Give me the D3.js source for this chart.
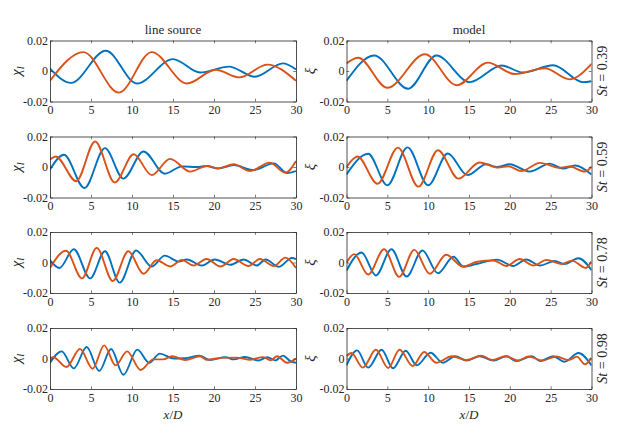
<!DOCTYPE html>
<html><head><meta charset="utf-8">
<script src="https://cdn.jsdelivr.net/npm/d3@7"></script>
<style>
body{margin:0;background:#fff;}
svg, svg text{font-family:"Liberation Serif","DejaVu Serif",serif;}
</style></head>
<body><svg id="c" width="636" height="438"></svg>
<script>
// ---- data ----
const xTicks = [0, 5, 10, 15, 20, 25, 30];
const yTicks = [-0.02, 0, 0.02];
const yTickLabels = ["-0.02", "0", "0.02"];
const columnTitles = ["line source", "model"];
const strouhal = ["0.39", "0.59", "0.78", "0.98"];

// line source, St = 0.39
const ls039Blue = [[0,0.0015],[2.56,-0.0078],[6.8,0.0133],[10.6,-0.0082],[15.0,0.0078],[18.3,-0.001],[21.8,0.0029],[25.0,-0.0038],[28.4,0.005],[30,0.001]];
const ls039Orange = [[0,-0.0064],[4.07,0.0124],[8.4,-0.0142],[12.4,0.0124],[16.7,-0.0082],[20.2,0.0008],[23.1,-0.0042],[26.5,0.0042],[30,-0.0064]];
// model, St = 0.39
const md039Blue = [[0,-0.0064],[3.39,0.0102],[7.55,-0.0116],[11.0,0.0102],[15.1,-0.0073],[19.0,0.0036],[21.6,-0.001],[25.3,0.0038],[29.0,-0.0073],[30,-0.0067]];
const md039Orange = [[0,0.005],[1.43,0.0087],[5.0,-0.011],[9.6,0.011],[13.5,-0.0093],[17.3,0.0055],[20.6,-0.002],[24.3,0.0018],[27.3,-0.0055],[30,0.0047]];
// line source, St = 0.59
const ls059Blue = [[0,-0.0016],[1.7,0.008],[4.2,-0.0138],[6.7,0.0124],[8.95,-0.0076],[11.4,0.0102],[14.0,-0.0044],[16.1,0.0004],[17.9,0],[19.1,0.0007],[20.5,-0.001],[22.4,0.0013],[24.8,-0.002],[27.3,0.0024],[28.9,-0.004],[30,-0.0027]];
const ls059Orange = [[0,0.005],[0.7,0.0069],[3.2,-0.0093],[5.5,0.0167],[7.9,-0.0102],[10.2,0.0084],[12.4,-0.0053],[14.65,0.0053],[17.1,-0.003],[19.1,0.0007],[20.5,-0.0009],[22.4,0.0018],[24.4,-0.0027],[26.8,0.0029],[28.7,-0.0038],[30,0.004]];
// model, St = 0.59
const md059Blue = [[0,-0.0049],[2.65,0.0087],[5.0,-0.012],[7.47,0.0129],[10.0,-0.012],[12.4,0.0089],[14.8,-0.0053],[17.1,0.0018],[18.4,0],[20.0,0.0018],[22.4,-0.003],[24.9,0.0022],[26.5,-0.001],[28.0,0.001],[30,-0.005]];
const md059Orange = [[0,0],[1.35,0.0069],[3.8,-0.011],[6.3,0.0127],[8.8,-0.0129],[11.2,0.011],[13.7,-0.0076],[16.3,0.003],[18.6,-0.0004],[19.8,0.0005],[21.4,-0.0027],[23.7,0.0027],[26.1,-0.0005],[27.3,0.0003],[29.2,-0.003],[30,0.0003]];
// line source, St = 0.78
const ls078Blue = [[0,0.0015],[1.15,-0.0036],[2.9,0.0087],[4.9,-0.0104],[6.7,0.0074],[8.5,-0.0132],[10.5,0.0079],[12.4,-0.0026],[14.0,0.0045],[15.7,0.0006],[16.7,0.002],[18.5,-0.002],[20.1,0.002],[22.0,-0.0015],[23.6,0.002],[25.2,-0.002],[26.3,0.002],[27.9,-0.0028],[29.5,0.003],[30,0.0023]];
const ls078Orange = [[0,-0.0036],[1.95,0.0077],[3.9,-0.0104],[5.7,0.0096],[7.65,-0.0121],[9.55,0.0074],[11.4,-0.0074],[13.0,0.0015],[14.65,-0.0026],[16.1,0.0017],[17.5,-0.002],[19.1,0.0023],[20.8,-0.0026],[22.4,0.0023],[24.2,-0.0023],[25.6,0.0023],[27.3,-0.0023],[28.7,0.0032],[30,-0.0036]];
// model, St = 0.78
const md078Blue = [[0,-0.0053],[1.84,0.0066],[3.6,-0.0085],[5.5,0.0087],[7.35,-0.0092],[9.3,0.0079],[11.2,-0.007],[13.1,0.0038],[14.3,-0.0026],[15.9,-0.001],[18.4,0.0019],[20.4,-0.0023],[22.0,0.002],[23.7,-0.002],[25.5,0.001],[26.7,-0.001],[28.4,0.0028],[30,-0.005]];
const md078Orange = [[0,0],[0.94,0.0055],[2.65,-0.0079],[4.6,0.0087],[6.45,-0.0094],[8.3,0.0083],[10.2,-0.0074],[12.2,0.0051],[14.3,-0.0028],[16.0,0.0005],[18.0,0.0013],[19.6,-0.0023],[21.2,0.0023],[22.9,-0.002],[24.5,0.0017],[26.3,-0.001],[27.6,0.0012],[29.3,-0.0036],[30,0.0006]];
// line source, St = 0.98
const ls098Blue = [[0,-0.0028],[1.42,0.0047],[2.9,-0.0065],[4.47,0.0075],[6.0,-0.0082],[7.45,0.0062],[8.95,-0.0107],[10.65,0.0058],[12.1,-0.0028],[13.4,0.0032],[15.1,0],[16.5,0.0002],[18.2,0.0019],[19.5,-0.001],[21.4,0.0009],[22.4,-0.0006],[23.8,0.001],[25.4,-0.0013],[26.5,0.0009],[27.5,-0.0013],[28.4,0.0019],[29.3,-0.0017],[30,-0.0028]];
const ls098Orange = [[0,0.0004],[0.4,0.0008],[2.0,-0.0056],[3.66,0.0062],[5.2,-0.0067],[6.6,0.0086],[8.0,-0.0045],[9.4,0.0047],[11.05,-0.0075],[12.6,-0.0006],[13.8,-0.0006],[14.9,0.0015],[16.5,-0.001],[18.3,0.0015],[19.1,-0.0008],[20.9,0.0004],[22.8,0.0006],[24.3,-0.0008],[26.0,0.0009],[26.9,-0.0011],[27.7,0.0015],[28.9,-0.0028],[30,0]];
// model, St = 0.98
const md098Blue = [[0,-0.0045],[1.3,0.0053],[2.65,-0.006],[4.3,0.0057],[5.7,-0.0064],[7.25,0.0051],[8.6,-0.0045],[10.3,0.0038],[11.8,-0.0028],[13.3,0.0015],[14.7,-0.0013],[16.3,0.0015],[18.0,-0.0013],[19.6,0.0015],[20.8,-0.0017],[22.7,0.0015],[23.7,-0.0017],[25.3,0.0015],[26.7,-0.0021],[28.4,0.0036],[30,-0.0045]];
const md098Orange = [[0,0.0015],[0.6,0.0036],[2.0,-0.006],[3.6,0.0057],[5.1,-0.0062],[6.5,0.0057],[8.1,-0.0049],[9.5,0.0043],[11.0,-0.0028],[12.9,0.0015],[14.7,-0.001],[16.5,0.0019],[17.8,-0.001],[19.5,0.0015],[21.0,-0.0013],[22.3,0.0013],[24.0,-0.0013],[25.7,0.0013],[27.2,-0.0010],[28.2,0.0012],[29.2,-0.0038],[30,0.0005]];

const panelSeries = [
  [[ls039Blue, ls039Orange], [md039Blue, md039Orange]],
  [[ls059Blue, ls059Orange], [md059Blue, md059Orange]],
  [[ls078Blue, ls078Orange], [md078Blue, md078Orange]],
  [[ls098Blue, ls098Orange], [md098Blue, md098Orange]]
];

// ---- layout ----
const colors = ["#0072BD", "#D95319"];
const colX = [[50, 296], [346.5, 591.5]];
const rowTop = [40.5, 136.5, 232, 328];
const panelH = 61;
const axisColor = "#262626";
const serif = "'Liberation Serif','DejaVu Serif',serif";
const svg = d3.select("#c");

panelSeries.forEach((row, r) => {
  row.forEach((series, c) => {
    const x = d3.scaleLinear().domain([0, 30]).range(colX[c]);
    const y = d3.scaleLinear().domain([-0.02, 0.02]).range([rowTop[r] + panelH, rowTop[r]]);
    const g = svg.append("g");
    const id = "clip" + r + c;
    svg.append("clipPath").attr("id", id).append("rect")
      .attr("x", colX[c][0]).attr("y", rowTop[r])
      .attr("width", colX[c][1] - colX[c][0]).attr("height", panelH);

    const line = d3.line().x(d => x(d[0])).y(d => y(d[1])).curve(d3.curveMonotoneX);
    series.forEach((s, i) => {
      g.append("path").datum(s).attr("d", line)
        .attr("fill", "none").attr("stroke", colors[i]).attr("stroke-width", 1.9)
        .attr("clip-path", "url(#" + id + ")");
    });

    // axes with inward ticks on all sides
    const tk = 2.8;
    const bottom = g.append("g").attr("transform", `translate(0,${rowTop[r] + panelH})`)
      .call(d3.axisBottom(x).tickValues(xTicks).tickSizeInner(-tk).tickSizeOuter(0).tickPadding(4));
    const top = g.append("g").attr("transform", `translate(0,${rowTop[r]})`)
      .call(d3.axisTop(x).tickValues(xTicks).tickSizeInner(-tk).tickSizeOuter(0).tickFormat(""));
    const left = g.append("g").attr("transform", `translate(${colX[c][0]},0)`)
      .call(d3.axisLeft(y).tickValues(yTicks).tickSizeInner(-tk).tickSizeOuter(0).tickPadding(2)
        .tickFormat((d, i) => yTickLabels[i]));
    const right = g.append("g").attr("transform", `translate(${colX[c][1]},0)`)
      .call(d3.axisRight(y).tickValues(yTicks).tickSizeInner(-tk).tickSizeOuter(0).tickFormat(""));
    [bottom, top, left, right].forEach(a => {
      a.attr("font-family", null).style("font-family", serif);
      a.select(".domain").attr("stroke", axisColor).attr("stroke-width", 0.8);
      a.selectAll(".tick line").attr("stroke", axisColor).attr("stroke-width", 0.6);
      a.selectAll("text").attr("fill", axisColor).style("font-size", "12px").style("font-family", serif);
    });
    bottom.selectAll("text").attr("dy", "0.72em");

    // y label
    const yl = g.append("text")
      .attr("transform", `translate(${c === 0 ? 21 : 315},${rowTop[r] + panelH / 2}) rotate(-90)`)
      .attr("text-anchor", "middle").attr("font-size", 15).attr("fill", axisColor);
    if (c === 0) {
      yl.append("tspan").attr("font-style", "italic").text("χ");
      yl.append("tspan").attr("font-style", "italic").attr("font-size", 11).attr("dy", 3).text("l");
    } else {
      yl.append("tspan").attr("font-style", "italic").text("ξ");
    }
  });

  // St label
  const st = svg.append("text")
    .attr("transform", `translate(607,${rowTop[r] + panelH / 2}) rotate(-90)`)
    .attr("text-anchor", "middle").attr("font-size", 14).attr("fill", axisColor);
  st.append("tspan").attr("font-style", "italic").text("St");
  st.append("tspan").text(" = " + strouhal[r]);
});

// column titles & x labels
columnTitles.forEach((t, c) => {
  const cx = (colX[c][0] + colX[c][1]) / 2;
  svg.append("text").attr("x", cx).attr("y", 34).attr("text-anchor", "middle")
    .attr("font-size", 13).attr("fill", axisColor).text(t);
  const xl = svg.append("text").attr("x", cx).attr("y", 419).attr("text-anchor", "middle")
    .attr("font-size", 13).attr("fill", axisColor);
  xl.append("tspan").attr("font-style", "italic").text("x");
  xl.append("tspan").text("/");
  xl.append("tspan").attr("font-style", "italic").text("D");
});
</script></body></html>
